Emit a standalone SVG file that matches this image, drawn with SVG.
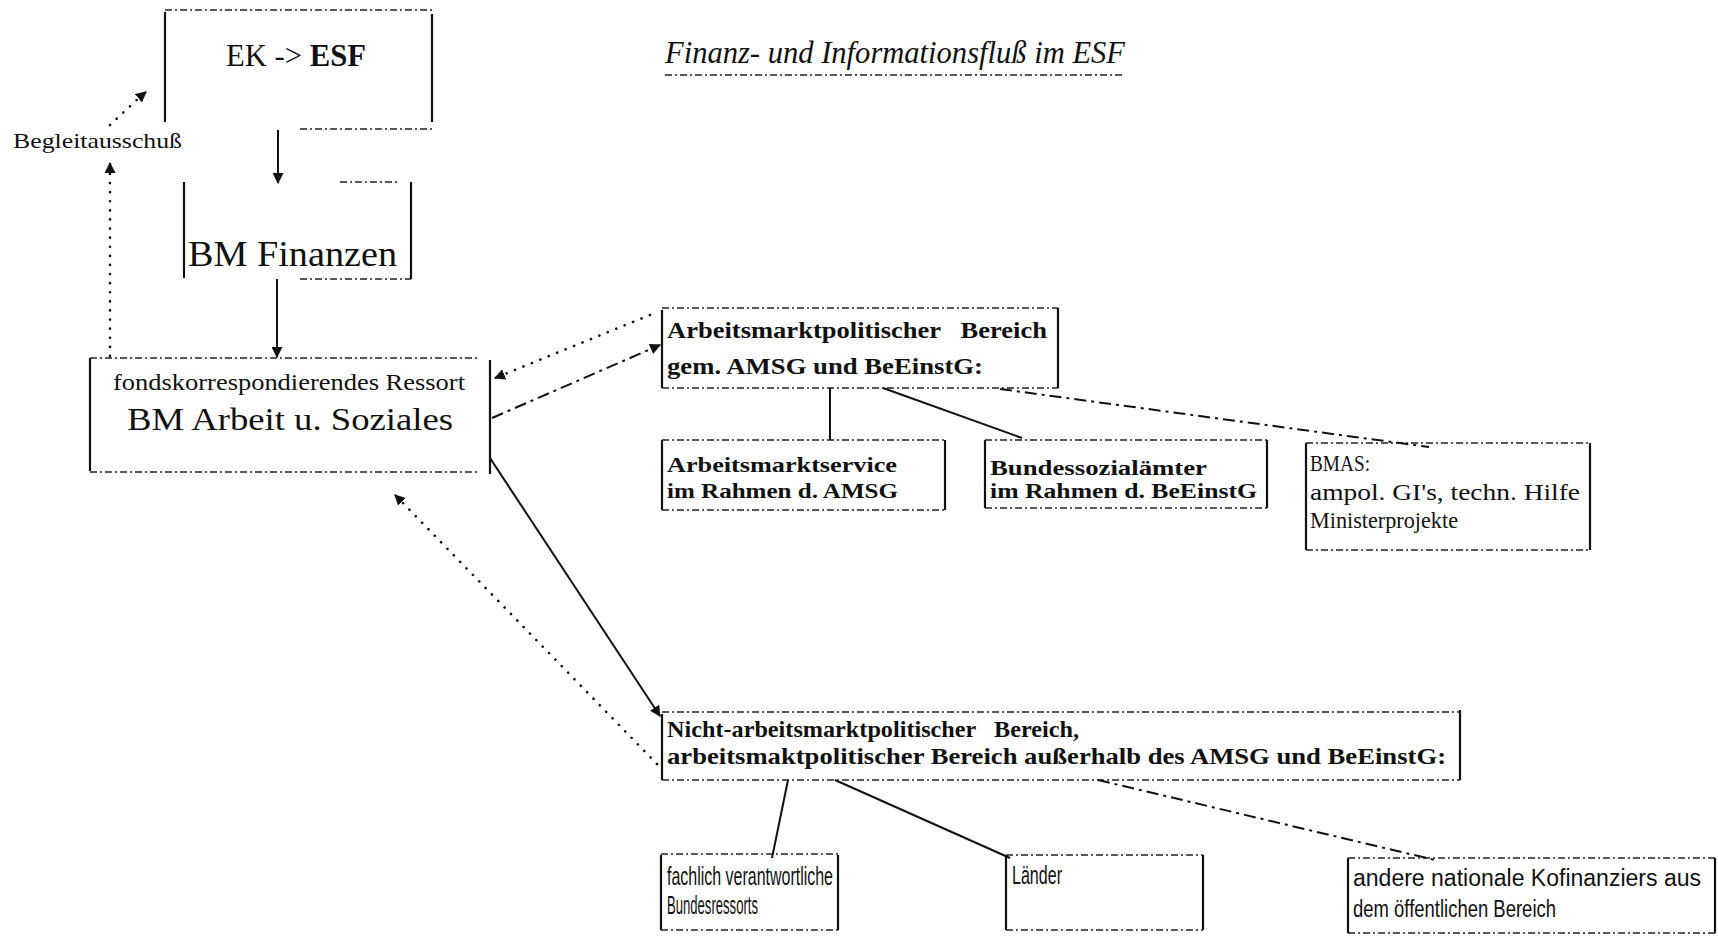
<svg xmlns="http://www.w3.org/2000/svg" width="1718" height="941" viewBox="0 0 1718 941">
<defs>
<style>
.side{fill:none;stroke:#111;stroke-width:2.2}
.edge{fill:none;stroke:#222;stroke-width:1.6;stroke-dasharray:7 3 2 3}
.solid{fill:none;stroke:#111;stroke-width:2}
.dot{fill:none;stroke:#111;stroke-width:2.6;stroke-dasharray:0.1 9;stroke-linecap:round}
.dashdot{fill:none;stroke:#111;stroke-width:2;stroke-dasharray:12 5 3 5}
.serif{font-family:"Liberation Serif","Times New Roman",serif;fill:#111;white-space:pre}
.bold{font-weight:bold}
.narrow{font-family:"Liberation Sans",Arial,sans-serif;fill:#111}
</style>
<marker id="ah" viewBox="0 0 10 10" refX="9" refY="5" markerWidth="11" markerHeight="11" markerUnits="userSpaceOnUse" orient="auto">
<path d="M0,0 L10,5 L0,10 z" fill="#111"/>
</marker>
</defs>
<rect width="1718" height="941" fill="#fff"/>

<g id="title">
<text class="serif" x="665" y="63" font-size="32" font-style="italic" textLength="460" lengthAdjust="spacingAndGlyphs">Finanz- und Informationsfluß im ESF</text>
<path class="edge" d="M665 75 H1125"/>
</g>

<g id="ek-esf">
<path class="side" d="M165 12 V122 M432 14 V122"/>
<path class="edge" d="M165 10 H432 M300 129 H432"/>
<text class="serif" x="226" y="66" font-size="32" textLength="140" lengthAdjust="spacingAndGlyphs">EK -&gt; <tspan font-weight="bold">ESF</tspan></text>
</g>

<g id="bm-finanzen">
<path class="side" d="M184 182 V278 M411 182 V279"/>
<path class="edge" d="M340 182 H400 M300 279 H411"/>
<text class="serif" x="188" y="266" font-size="35" textLength="209" lengthAdjust="spacingAndGlyphs">BM Finanzen</text>
</g>

<g id="begleitausschuss">
<text class="serif" x="13" y="148" font-size="21" textLength="169" lengthAdjust="spacingAndGlyphs">Begleitausschuß</text>
</g>

<g id="bm-arbeit">
<path class="side" d="M90 358 V471 M490 360 V474"/>
<path class="edge" d="M90 358 H480 M90 472 H480"/>
<text class="serif" x="113" y="390" font-size="23" textLength="352" lengthAdjust="spacingAndGlyphs">fondskorrespondierendes Ressort</text>
<text class="serif" x="127" y="430" font-size="32" textLength="326" lengthAdjust="spacingAndGlyphs">BM Arbeit u. Soziales</text>
</g>

<g id="arbeitsmarkt-bereich">
<path class="side" d="M662 310 V388 M1058 308 V388"/>
<path class="edge" d="M662 308 H1058 M662 388 H1058"/>
<text class="serif bold" x="667" y="338" font-size="23" textLength="380" lengthAdjust="spacingAndGlyphs">Arbeitsmarktpolitischer   Bereich</text>
<text class="serif bold" x="667" y="374" font-size="23" textLength="316" lengthAdjust="spacingAndGlyphs">gem. AMSG und BeEinstG:</text>
</g>

<g id="arbeitsmarktservice">
<path class="side" d="M662 440 V510 M945 440 V510"/>
<path class="edge" d="M662 440 H945 M662 510 H945"/>
<text class="serif bold" x="667" y="472" font-size="21" textLength="230" lengthAdjust="spacingAndGlyphs">Arbeitsmarktservice</text>
<text class="serif bold" x="667" y="498" font-size="21" textLength="231" lengthAdjust="spacingAndGlyphs">im Rahmen d. AMSG</text>
</g>

<g id="bundessozialaemter">
<path class="side" d="M985 440 V508 M1267 440 V508"/>
<path class="edge" d="M985 440 H1267 M985 508 H1267"/>
<text class="serif bold" x="990" y="475" font-size="21" textLength="217" lengthAdjust="spacingAndGlyphs">Bundessozialämter</text>
<text class="serif bold" x="990" y="498" font-size="21" textLength="267" lengthAdjust="spacingAndGlyphs">im Rahmen d. BeEinstG</text>
</g>

<g id="bmas">
<path class="side" d="M1306 443 V550 M1590 443 V550"/>
<path class="edge" d="M1306 443 H1590 M1306 550 H1590"/>
<text class="serif" x="1310" y="471" font-size="23" textLength="60" lengthAdjust="spacingAndGlyphs">BMAS:</text>
<text class="serif" x="1310" y="500" font-size="23" textLength="270" lengthAdjust="spacingAndGlyphs">ampol. GI's, techn. Hilfe</text>
<text class="serif" x="1310" y="528" font-size="23" textLength="148" lengthAdjust="spacingAndGlyphs">Ministerprojekte</text>
</g>

<g id="nicht-arbeitsmarkt">
<path class="side" d="M662 714 V780 M1460 710 V780"/>
<path class="edge" d="M662 712 H1460 M662 780 H1460"/>
<text class="serif bold" x="667" y="737" font-size="23" textLength="412" lengthAdjust="spacingAndGlyphs">Nicht-arbeitsmarktpolitischer   Bereich,</text>
<text class="serif bold" x="667" y="764" font-size="23" textLength="779" lengthAdjust="spacingAndGlyphs">arbeitsmaktpolitischer Bereich außerhalb des AMSG und BeEinstG:</text>
</g>

<g id="fachlich">
<path class="side" d="M661 855 V930 M838 855 V930"/>
<path class="edge" d="M661 854 H838 M661 930 H838"/>
<text class="narrow" x="667" y="885" font-size="26" textLength="166" lengthAdjust="spacingAndGlyphs">fachlich verantwortliche</text>
<text class="narrow" x="667" y="914" font-size="26" textLength="91" lengthAdjust="spacingAndGlyphs">Bundesressorts</text>
</g>

<g id="laender">
<path class="side" d="M1006 855 V930 M1203 855 V930"/>
<path class="edge" d="M1006 855 H1203 M1006 930 H1203"/>
<text class="narrow" x="1012" y="884" font-size="26" textLength="50" lengthAdjust="spacingAndGlyphs">Länder</text>
</g>

<g id="andere">
<path class="side" d="M1348 858 V933 M1715 858 V933"/>
<path class="edge" d="M1348 858 H1715 M1348 933 H1715"/>
<text class="narrow" x="1353" y="886" font-size="23" textLength="348" lengthAdjust="spacingAndGlyphs">andere nationale Kofinanziers aus</text>
<text class="narrow" x="1353" y="917" font-size="23" textLength="203" lengthAdjust="spacingAndGlyphs">dem öffentlichen Bereich</text>
</g>

<g id="connectors">
<path class="solid" d="M278 130 V183" marker-end="url(#ah)"/>
<path class="solid" d="M277 279 V357" marker-end="url(#ah)"/>
<path class="dot" d="M110 356 V166"/>
<path class="solid" stroke="none" d="M110 166 V163" marker-end="url(#ah)"/>
<path class="dot" d="M110 125 L142 95"/>
<path class="solid" stroke="none" d="M140 97 L146 92" marker-end="url(#ah)"/>
<path class="dot" d="M650 315 L500 376"/>
<path class="solid" stroke="none" d="M500 376 L495 378" marker-end="url(#ah)"/>
<path class="dashdot" d="M492 418 L660 345" marker-end="url(#ah)"/>
<path class="solid" d="M490 458 L660 716" marker-end="url(#ah)"/>
<path class="dot" d="M657 764 L399 499"/>
<path class="solid" stroke="none" d="M399 499 L395 495" marker-end="url(#ah)"/>
<path class="solid" d="M830 388 V440"/>
<path class="solid" d="M883 388 L1022 438"/>
<path class="dashdot" d="M1000 389 L1429 447"/>
<path class="solid" d="M788 780 L772 858"/>
<path class="solid" d="M835 780 L1010 858"/>
<path class="dashdot" d="M1098 780 L1435 860"/>
</g>
</svg>
